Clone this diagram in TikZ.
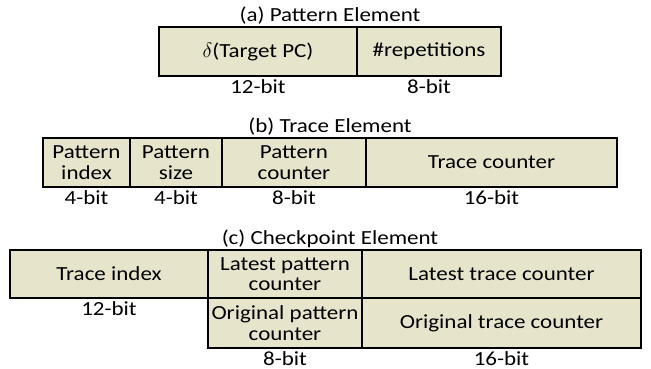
\documentclass[tikz,border=0pt]{standalone}
\usepackage{fontspec}
\setmainfont{Carlito}[FakeStretch=1.15]
\usetikzlibrary{positioning}
\definecolor{cellfill}{HTML}{E6E5CC}

\begin{document}
\begin{tikzpicture}[
    x=1pt, y=-1pt,
    node distance=0pt,
    cell/.style={draw=black, line width=1.2pt, fill=cellfill, inner sep=0pt, outer sep=0pt,
      minimum height=49pt, align=center, font=\fontsize{20}{20.5}\selectfont},
    title/.style={inner sep=0pt, anchor=base, font=\fontsize{20}{20.5}\selectfont},
    bits/.style={inner sep=0pt, text height=13pt, text depth=0pt, font=\fontsize{20}{20.5}\selectfont}
  ]
    \useasboundingbox (0,0) rectangle (651,369);
    % (a) pattern element
    \node[title] (titlea) at (330,22) {(a) Pattern Element};
    \node[cell, minimum width=198pt, anchor=north west] (targetpc) at (159,27) {$\delta$(Target PC)};
    \node[cell, minimum width=144pt, right=of targetpc] (reps) {\#repetitions};
    \node[bits, below=4pt of targetpc] (bitpc) {12-bit};
    \node[bits, below=4pt of reps] (bitreps) {8-bit};
    % (b) trace element
    \node[title] (titleb) at (330,132) {(b) Trace Element};
    \node[cell, minimum width=87pt, anchor=north west] (patidx) at (43,138) {Pattern\\index};
    \node[cell, minimum width=92pt, right=of patidx] (patsize) {Pattern\\size};
    \node[cell, minimum width=144pt, right=of patsize] (patcnt) {Pattern\\counter};
    \node[cell, minimum width=251pt, right=of patcnt] (trcnt) {Trace counter};
    \node[bits, below=4pt of patidx] (bitidx) {4-bit};
    \node[bits, below=4pt of patsize] (bitsize) {4-bit};
    \node[bits, below=4pt of patcnt] (bitpatcnt) {8-bit};
    \node[bits, below=4pt of trcnt] (bittrcnt) {16-bit};
    % (c) checkpoint element
    \node[title] (titlec) at (330,244) {(c) Checkpoint Element};
    \node[cell, minimum width=198pt, minimum height=48pt, anchor=north west] (tridx) at (10,250) {Trace index};
    \node[cell, minimum width=154pt, minimum height=48pt, right=of tridx] (latpat) {Latest pattern\\counter};
    \node[cell, minimum width=279pt, minimum height=48pt, right=of latpat] (lattr) {Latest trace counter};
    \node[cell, minimum width=154pt, minimum height=50pt, below=of latpat] (origpat) {Original pattern\\counter};
    \node[cell, minimum width=279pt, minimum height=50pt, right=of origpat] (origtr) {Original trace counter};
    \node[bits, below=4pt of tridx] (bittridx) {12-bit};
    \node[bits, below=4pt of origpat] (bitorigpat) {8-bit};
    \node[bits, below=4pt of origtr] (bitorigtr) {16-bit};
  \end{tikzpicture}
\end{document}
